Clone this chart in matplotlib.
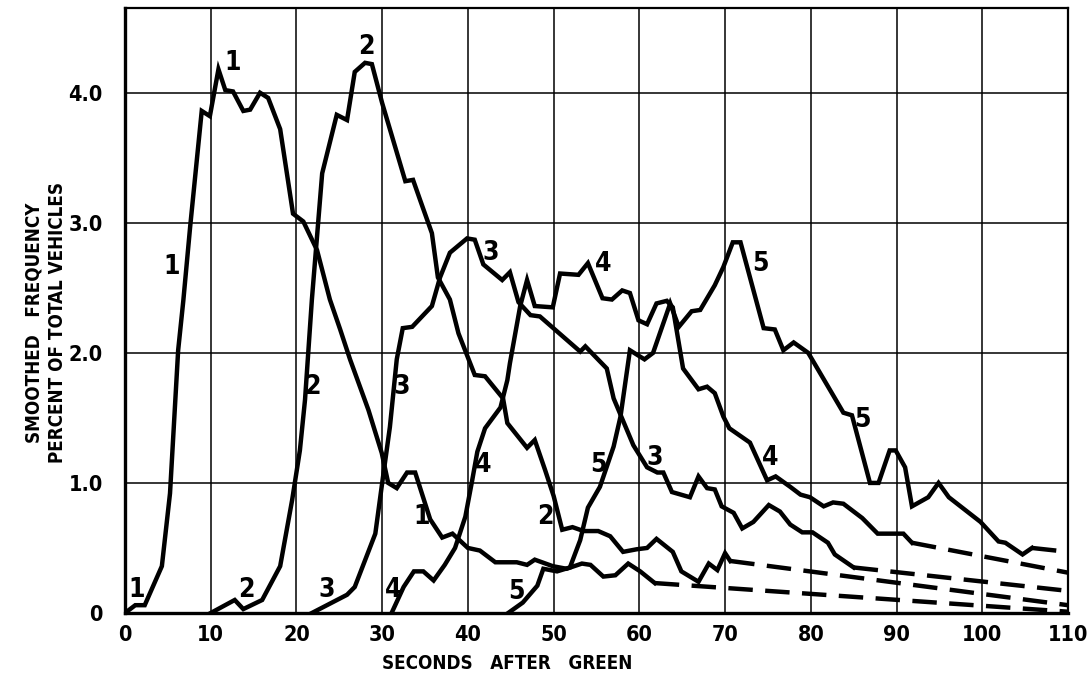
import matplotlib
matplotlib.use("Agg")
import matplotlib.pyplot as plt
from matplotlib import font_manager

# smoothed frequency curves, one per queue position group
x1 = [0, 1.2, 2.3, 4.3, 5.25, 6.2, 6.8, 7.6, 8.95, 9.9, 10.9, 11.7, 12.6, 13.8, 14.6, 15.75,
      16.7, 18.1, 19.6, 20.8, 22.4, 23.9, 25.1, 26.25, 28.4, 29.95, 30.7, 31.7, 32.9, 33.85,
      35.6, 37, 38.2, 40, 41.4, 43.2, 45.7, 46.9, 47.8, 49.9, 51.5, 53.3, 54.3, 55.8, 57.2,
      58.7, 60.1, 61.8]
y1 = [0, 0.06, 0.06, 0.36, 0.92, 2.02, 2.4, 2.97, 3.86, 3.82, 4.18, 4.02, 4.01, 3.86, 3.87, 4.0,
      3.96, 3.72, 3.07, 3.01, 2.79, 2.41, 2.18, 1.95, 1.56, 1.23, 1.0, 0.96, 1.08, 1.08,
      0.72, 0.58, 0.61, 0.5, 0.48, 0.39, 0.39, 0.37, 0.41, 0.36, 0.34, 0.38, 0.37, 0.28, 0.29,
      0.38, 0.32, 0.23]

x2 = [10, 12.8, 13.8, 16, 18.1, 19.5, 20.4, 21, 21.8, 23, 24.7, 25.9, 26.8, 28, 28.8, 30,
      32.7, 33.6, 34.4, 35.8, 36.5, 37.9, 38.9, 40.8, 42, 44.1, 44.6, 46.9, 47.8, 49, 50, 51,
      52.2, 53.5, 55.2, 56.6, 58.1, 59.7, 60.9, 62.0, 63.9, 64.9, 66.9, 68.1, 69.1, 70, 70.6]
y2 = [0, 0.1, 0.03, 0.1, 0.36, 0.87, 1.25, 1.64, 2.41, 3.38, 3.83, 3.79, 4.16, 4.23, 4.22, 3.92,
      3.32, 3.33, 3.18, 2.92, 2.58, 2.41, 2.15, 1.83, 1.82, 1.65, 1.46, 1.27, 1.33, 1.1, 0.9, 0.64,
      0.66, 0.63, 0.63, 0.59, 0.47, 0.49, 0.5, 0.57, 0.47, 0.32, 0.24, 0.38, 0.33, 0.46, 0.4]

x3 = [21.8, 25.9, 26.8, 29.2, 30, 30.9, 31.7, 32.4, 33.5, 35.8, 36.75, 37.9, 39.9, 40.8, 41.8,
      44, 44.9, 45.9, 47.3, 48.4, 53.1, 53.7, 56.2, 57, 59.3, 60.9, 62.1, 62.8, 63.8, 65.9,
      66.9, 67.9, 68.8, 69.6, 71, 72, 73.3, 75.1, 76.4, 77.6, 79, 80.2, 82, 82.8, 85]
y3 = [0, 0.14, 0.2, 0.61, 1.0, 1.43, 1.95, 2.19, 2.2, 2.36, 2.58, 2.77, 2.88, 2.87, 2.68,
      2.56, 2.62, 2.39, 2.29, 2.28, 2.01, 2.05, 1.88, 1.65, 1.29, 1.12, 1.08, 1.08, 0.93, 0.89,
      1.05, 0.96, 0.95, 0.82, 0.77, 0.65, 0.7, 0.83, 0.78, 0.68, 0.62, 0.62, 0.54, 0.45, 0.35]

x4 = [31.1, 32.5, 33.7, 34.8, 36, 37.3, 38.5, 39.7, 40.5, 41.1, 42, 43.8, 44.6, 44.9, 46.1,
      46.9, 47.8, 49.9, 50.75, 52.9, 54, 55.7, 56.8, 58, 58.9, 59.9, 60.9, 62.0, 63.2, 63.9,
      65.1, 66.9, 67.9, 68.8, 69.8, 70.5, 72.9, 74.9, 75.9, 77.6, 78.8, 79.9, 81.5, 82.6, 83.8,
      86, 87.8, 90.8, 91.8]
y4 = [0, 0.2, 0.32, 0.32, 0.25, 0.37, 0.5, 0.74, 1.02, 1.24, 1.42, 1.58, 1.79, 1.92, 2.36,
      2.56, 2.36, 2.35, 2.61, 2.6, 2.69, 2.42, 2.41, 2.48, 2.46, 2.25, 2.22, 2.38, 2.4, 2.35,
      1.88, 1.72, 1.74, 1.69, 1.51, 1.42, 1.31, 1.02, 1.05, 0.97, 0.91, 0.89, 0.82, 0.85, 0.84,
      0.73, 0.61, 0.61, 0.54]

x5 = [44.7, 46.4, 48.1, 48.8, 50.4, 51.9, 53.1, 54, 55.4, 57, 57.8, 58.9, 60.6, 61.6, 63.6,
      64.6, 66.1, 67.1, 68.8, 69.8, 70.9, 71.8, 74.5, 75.8, 76.8, 78, 79.7, 83.8, 84.8, 86.9,
      87.9, 89.2, 89.9, 91, 91.8, 93.7, 94.9, 96.1, 99.8, 101.9, 102.7, 104.7, 105.8]
y5 = [0, 0.08, 0.21, 0.34, 0.32, 0.35, 0.56, 0.81, 0.97, 1.28, 1.51, 2.02, 1.95, 2.0, 2.38,
      2.2, 2.32, 2.33, 2.52, 2.66, 2.85, 2.85, 2.19, 2.18, 2.02, 2.08, 2.0, 1.54, 1.52, 1.0,
      1.0, 1.25, 1.25, 1.12, 0.82, 0.89, 1.0, 0.89, 0.7, 0.55, 0.54, 0.45, 0.5]

# dashed extrapolated tails (start, end)
tails_x = [[61.8, 110], [70.6, 110], [85, 110], [91.8, 110], [105.8, 110]]
tails_y = [[0.23, 0.01], [0.4, 0.06], [0.35, 0.17], [0.54, 0.31], [0.5, 0.47]]

# curve number labels: (text, x, y)
labels = [("1", 1.4, 0.18), ("1", 5.4, 2.66), ("1", 12.5, 4.23), ("1", 34.6, 0.74),
          ("2", 14.2, 0.18), ("2", 21.8, 1.74), ("2", 28.2, 4.35), ("2", 49.0, 0.74),
          ("3", 23.5, 0.18), ("3", 32.3, 1.74), ("3", 42.6, 2.77), ("3", 61.8, 1.19),
          ("4", 31.3, 0.18), ("4", 41.8, 1.14), ("4", 55.8, 2.68), ("4", 75.3, 1.19),
          ("5", 45.7, 0.16), ("5", 55.2, 1.14), ("5", 74.1, 2.68), ("5", 86.0, 1.48)]

xticks = list(range(0, 111, 10))
yticks = [0, 1, 2, 3, 4]
ytick_labels = ["0", "1.0", "2.0", "3.0", "4.0"]

# look for a narrow bold face, the original lettering is very condensed
narrow = None
for f in font_manager.fontManager.ttflist:
    if "Narrow" in f.name or "Condensed" in f.name or f.stretch in ("condensed", "semi-condensed"):
        narrow = f.name
        break
if narrow:
    plt.rcParams["font.family"] = [narrow, "DejaVu Sans"]
    plt.rcParams["font.stretch"] = "condensed"
    fs_tick, fs_lab, fs_num = 15.5, 13.5, 19
else:
    plt.rcParams["font.family"] = ["Liberation Sans", "DejaVu Sans"]
    fs_tick, fs_lab, fs_num = 14, 12, 18
plt.rcParams["font.weight"] = "bold"

fig = plt.figure(figsize=(10.87, 6.83), dpi=100)
ax = fig.add_axes([0.115, 0.1025, 0.8675, 0.8855])

lw = 3.2
for xs, ys in [(x1, y1), (x2, y2), (x3, y3), (x4, y4), (x5, y5)]:
    ax.plot(xs, ys, color="black", lw=lw, solid_joinstyle="miter", zorder=3)

for xs, ys in zip(tails_x, tails_y):
    ax.plot(xs, ys, color="black", lw=lw, dashes=(5.5, 2.8), dash_capstyle="butt", zorder=3)

for txt, lx, ly in labels:
    ax.text(lx, ly, txt, fontsize=fs_num, fontweight="bold", ha="center", va="center",
            zorder=4)

ax.set_xlim(0, 110)
ax.set_ylim(0, 4.65)
ax.set_xticks(xticks)
ax.set_yticks(yticks)
ax.set_xticklabels([str(t) for t in xticks], fontsize=fs_tick, fontweight="bold")
ax.set_yticklabels(ytick_labels, fontsize=fs_tick, fontweight="bold")
ax.tick_params(axis="x", length=0, pad=9)
ax.tick_params(axis="y", length=0, pad=16)
ax.grid(True, color="black", lw=1.1)
ax.set_axisbelow(True)

for side in ["left", "bottom"]:
    ax.spines[side].set_linewidth(2.4)
for side in ["top", "right"]:
    ax.spines[side].set_linewidth(1.6)

fig.text(0.467, 0.029, "SECONDS   AFTER   GREEN", fontsize=fs_lab, fontweight="bold",
         ha="center", va="center")
fig.text(0.042, 0.528, "SMOOTHED   FREQUENCY\nPERCENT OF TOTAL VEHICLES", fontsize=fs_lab,
         fontweight="bold", rotation=90, ha="center", va="center", linespacing=1.25)

fig.savefig("out.png", dpi=100)
